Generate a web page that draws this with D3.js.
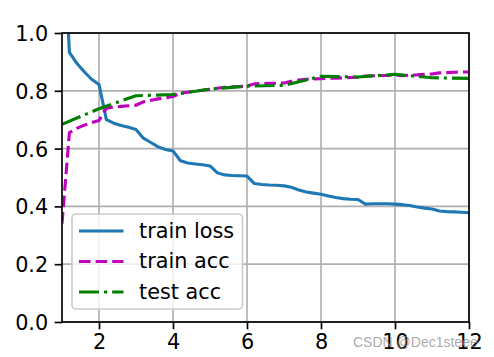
<!DOCTYPE html>
<html><head><meta charset="utf-8">
<script src="https://cdn.jsdelivr.net/npm/d3@7"></script>
<style>html,body{margin:0;padding:0;background:#fff;}svg{display:block;}</style>
</head><body>
<script>
// ---- data ----
const trainSteps = [1.0,
 1.2,1.4,1.6,1.8,2.0, 2.2,2.4,2.6,2.8,3.0, 3.2,3.4,3.6,3.8,4.0, 4.2,4.4,4.6,4.8,5.0,
 5.2,5.4,5.6,5.8,6.0, 6.2,6.4,6.6,6.8,7.0, 7.2,7.4,7.6,7.8,8.0, 8.2,8.4,8.6,8.8,9.0,
 9.2,9.4,9.6,9.8,10.0, 10.2,10.4,10.6,10.8,11.0, 11.2,11.4,11.6,11.8,12.0];
const trainLoss = [1.45,
 0.933,0.895,0.866,0.840,0.822, 0.700,0.688,0.680,0.674,0.666, 0.636,0.621,0.606,0.597,0.592,
 0.558,0.550,0.547,0.544,0.540, 0.516,0.509,0.507,0.506,0.505, 0.479,0.476,0.474,0.473,0.471,
 0.466,0.457,0.450,0.446,0.442, 0.436,0.431,0.427,0.425,0.424, 0.408,0.409,0.409,0.409,0.408,
 0.406,0.403,0.398,0.394,0.391, 0.384,0.382,0.381,0.380,0.378];
const trainAcc = [0.34,
 0.655,0.670,0.681,0.690,0.697, 0.740,0.744,0.746,0.748,0.750, 0.762,0.767,0.772,0.776,0.780,
 0.792,0.795,0.799,0.802,0.805, 0.809,0.812,0.814,0.815,0.816, 0.824,0.825,0.826,0.826,0.827,
 0.833,0.837,0.840,0.841,0.842, 0.843,0.844,0.845,0.846,0.847, 0.851,0.852,0.853,0.853,0.854,
 0.852,0.854,0.855,0.857,0.858, 0.862,0.863,0.864,0.865,0.865];
const testEpochs = [1,2,3,4,5,6,7,8,9,10,11,12];
const testAcc = [0.684,0.738,0.783,0.787,0.806,0.816,0.819,0.850,0.848,0.857,0.845,0.843];
const xTicks = [2,4,6,8,10,12];
const yTicks = [0.0,0.2,0.4,0.6,0.8,1.0];
const seriesNames = ["train loss","train acc","test acc"];
const seriesColors = ["#1f77b4","#bf00bf","#008000"];
const seriesDashes = [null,"11.6,5","20,5,3.1,5"];

// ---- layout ----
const W = 494, H = 357;
const L = 62, R = 469, T = 33, B = 322;
const FS = 20.8;

const svg = d3.select("body").append("svg").attr("width", W).attr("height", H)
  .style("font-family","'DejaVu Sans', sans-serif");

const x = d3.scaleLinear().domain([1,12]).range([L,R]);
const y = d3.scaleLinear().domain([0,1]).range([B,T]);

svg.append("defs").append("clipPath").attr("id","clip")
  .append("rect").attr("x",L).attr("y",T).attr("width",R-L).attr("height",B-T);

// grid
const grid = svg.append("g");
grid.selectAll(".gx").data(xTicks).join("line")
  .attr("x1",d=>x(d)).attr("x2",d=>x(d)).attr("y1",T).attr("y2",B)
  .attr("stroke","#b0b0b0").attr("stroke-width",1.67);
grid.selectAll(".gy").data(yTicks).join("line")
  .attr("x1",L).attr("x2",R).attr("y1",d=>y(d)).attr("y2",d=>y(d))
  .attr("stroke","#b0b0b0").attr("stroke-width",1.67);

// lines
const plot = svg.append("g").attr("clip-path","url(#clip)");
const lineGen = d3.line().x(d=>x(d[0])).y(d=>y(d[1]));
const seriesData = [
  trainSteps.map((s,i)=>[s,trainLoss[i]]),
  trainSteps.map((s,i)=>[s,trainAcc[i]]),
  testEpochs.map((s,i)=>[s,testAcc[i]])
];
seriesData.forEach((data,i)=>{
  plot.append("path").attr("d",lineGen(data)).attr("fill","none")
    .attr("stroke",seriesColors[i]).attr("stroke-width",3.1)
    .attr("stroke-linejoin","round")
    .attr("stroke-linecap", seriesDashes[i] ? "butt" : "square")
    .attr("stroke-dasharray", seriesDashes[i]);
});

// axes
const xAxis = svg.append("g").attr("transform",`translate(0,${B})`)
  .call(d3.axisBottom(x).tickValues(xTicks).tickFormat(d3.format("d")).tickSize(7.3).tickPadding(4.5));
const yAxis = svg.append("g").attr("transform",`translate(${L},0)`)
  .call(d3.axisLeft(y).tickValues(yTicks).tickFormat(d3.format(".1f")).tickSize(7.3).tickPadding(6.5));
[xAxis,yAxis].forEach(a=>{
  a.select(".domain").remove();
  a.selectAll(".tick line").attr("stroke","#000").attr("stroke-width",1.67);
  a.selectAll(".tick text").attr("fill","#000").style("font-size",FS+"px")
    .style("font-family","'DejaVu Sans', sans-serif");
});
yAxis.selectAll(".tick text").attr("dy","0.36em");

// spines
svg.append("rect").attr("x",L).attr("y",T).attr("width",R-L).attr("height",B-T)
  .attr("fill","none").attr("stroke","#000").attr("stroke-width",1.67);

// legend
const lg = svg.append("g");
lg.append("rect").attr("x",72).attr("y",214).attr("width",170.5).attr("height",95)
  .attr("rx",4).attr("fill","#fff").attr("fill-opacity",0.8)
  .attr("stroke","#cccccc").attr("stroke-width",1.67);
const rowsY = [231, 261.5, 292];
seriesNames.forEach((n,i)=>{
  lg.append("line").attr("x1",79).attr("x2",123.5).attr("y1",rowsY[i]).attr("y2",rowsY[i])
    .attr("stroke",seriesColors[i]).attr("stroke-width",3.1)
    .attr("stroke-dasharray",seriesDashes[i]);
  lg.append("text").attr("x",139).attr("y",rowsY[i]).attr("dy","0.33em")
    .style("font-size",FS+"px").attr("fill","#000").text(n);
});

// watermark
svg.append("text").attr("x",353).attr("y",347).text("CSDN @Dec1steee")
  .style("font-family","'Liberation Sans', Arial, sans-serif").style("font-size","14px")
  .attr("fill","#8c8c8c").attr("fill-opacity",0.75);
</script>
</body></html>
